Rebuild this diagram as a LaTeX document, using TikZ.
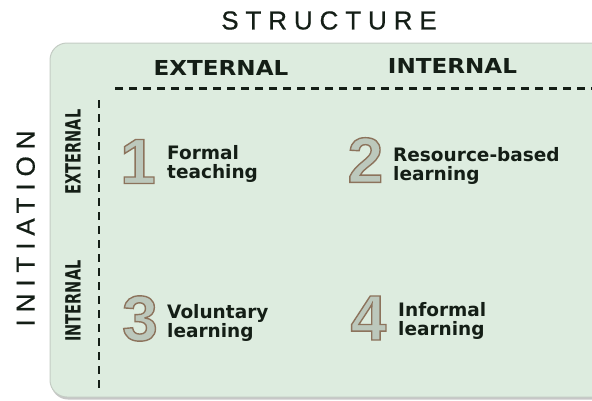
\documentclass[tikz,border=0pt]{standalone}
\usepackage{fontspec}
\setmainfont{DejaVu Sans}
\newfontfamily\headfont{DejaVu Sans}[FakeStretch=1.12]
\newfontfamily\sidefont{DejaVu Sans}[FakeStretch=0.69]
\newfontfamily\titlefont{Liberation Sans}[LetterSpace=26.5,FakeBold=0.6]
\newfontfamily\digitfont{Liberation Sans}
\definecolor{panelfill}{HTML}{DDECDF}
\definecolor{paneledge}{HTML}{C4CCC4}
\definecolor{digitfill}{HTML}{BCC8BC}
\definecolor{ink}{HTML}{141E16}
% outlined digit: fill in digitfill, brown stroke
\newcommand{\outlinedigit}[1]{\textcolor{digitfill}{\special{pdf:code 2 Tr 1.4 w 0.549 0.451 0.361 RG}#1\special{pdf:code 0 Tr}}}
\begin{document}
\begin{tikzpicture}[x=1pt,y=-1pt,
    titletext/.style={inner sep=0pt,font=\titlefont\fontsize{26}{26}\selectfont,text=ink},
    headtext/.style={inner sep=0pt,font=\headfont\bfseries\fontsize{20.6}{21}\selectfont,text=ink},
    sidetext/.style={inner sep=0pt,rotate=90,font=\sidefont\bfseries\fontsize{21}{21}\selectfont,text=ink},
    digitnum/.style={inner sep=0pt,font=\digitfont\bfseries\fontsize{64}{64}\selectfont},
    quadtext/.style={inner sep=0pt,anchor=west,align=left,font=\bfseries\fontsize{18.5}{19}\selectfont,text=ink},
    divider/.style={ink,line width=2.4pt,dash pattern=on 8pt off 6pt}]
    \useasboundingbox (0,0) rectangle (592,400);
    \clip (0,0) rectangle (592,400);
    \fill[black!22,rounded corners=17] (51,45) rectangle (620,399.5);
    \draw[paneledge,fill=panelfill,line width=1pt,rounded corners=17] (50,43) rectangle (620,397);
    \node[titletext] (structure) at (329,20.5) {STRUCTURE};
    \node[titletext,rotate=90] (initiation) at (25.7,228.5) {INITIATION};
    \node[headtext] (colext) at (221,67.5) {EXTERNAL};
    \node[headtext] (colint) at (452.5,65.5) {INTERNAL};
    \node[sidetext] (rowext) at (73,152) {EXTERNAL};
    \node[sidetext] (rowint) at (73,301) {INTERNAL};
    \coordinate (hstart) at (115,88.5);
    \coordinate (hend) at (600,88.5);
    \coordinate (vstart) at (99,100);
    \coordinate (vend) at (99,388);
    \draw[divider] (hstart) -- (hend);
    \draw[divider] (vstart) -- (vend);
    \foreach \n/\x/\y in {1/138/161.5, 2/365.5/160, 3/140/318.5, 4/368.5/318}{
        \node[digitnum] (num\n) at (\x,\y) {\outlinedigit{\n}};
    }
    \node[quadtext] (quad1) at (167,163.5) {Formal\\teaching};
    \node[quadtext] (quad2) at (393,165.6) {Resource-based\\learning};
    \node[quadtext] (quad3) at (167,322.7) {Voluntary\\learning};
    \node[quadtext] (quad4) at (398,320.7) {Informal\\learning};
\end{tikzpicture}
\end{document}
